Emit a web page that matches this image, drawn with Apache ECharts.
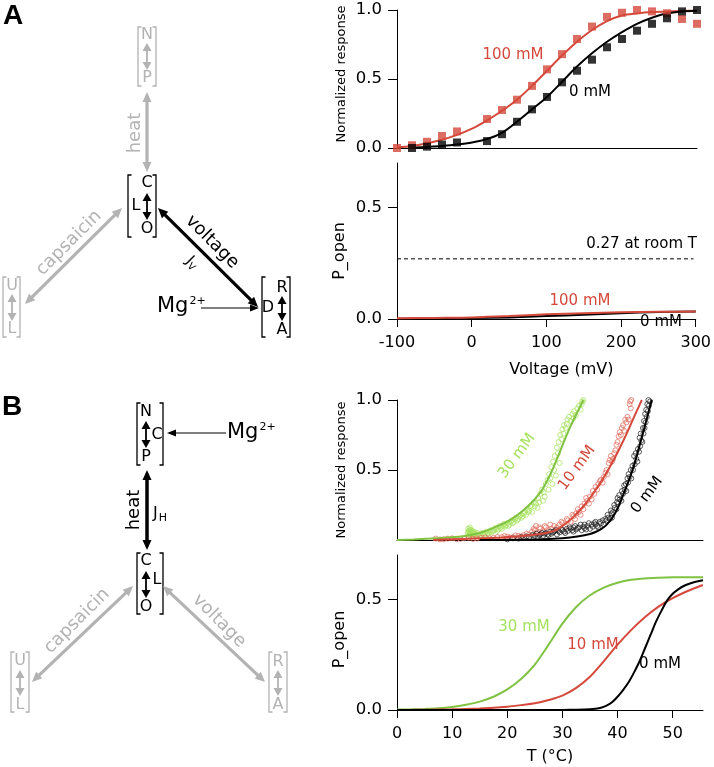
<!DOCTYPE html>
<html><head><meta charset="utf-8">
<script src="https://cdn.jsdelivr.net/npm/echarts@6/dist/echarts.min.js"></script>
<style>html,body{margin:0;padding:0;background:#fff}#c{width:714px;height:767px}</style>
</head><body><div id="c"></div><script>
// ---------- DATA ----------
// Panel A top: normalized response vs voltage
const voltX100 = [-100,-80,-60,-40,-20,20,40,60,80,100,120,140,160,180,200,220,240,260,280,300];
const resp100 = [0.0,0.02,0.045,0.087,0.12,0.21,0.275,0.35,0.45,0.57,0.68,0.79,0.88,0.95,0.98,1.0,0.99,0.976,0.935,0.9];
const voltX0 = [-80,-60,-40,-20,20,40,60,80,100,120,140,160,180,200,220,240,260,280,300];
const resp0 = [0.0,0.01,0.025,0.04,0.05,0.10,0.19,0.28,0.37,0.476,0.56,0.64,0.73,0.79,0.85,0.9,0.94,0.99,1.0];
const fitV = [-100,-80,-60,-40,-20,0,20,40,60,80,100,120,140,160,180,200,220,240,260,280,300];
const fit100 = [0.005,0.015,0.035,0.06,0.095,0.14,0.2,0.27,0.35,0.45,0.56,0.67,0.77,0.855,0.92,0.96,0.975,0.985,0.99,0.993,0.995];
const fitV0 = [-80,-60,-40,-20,0,20,40,60,80,100,120,140,160,180,200,220,240,260,280,300];
const fit0 = [0.002,0.008,0.015,0.025,0.04,0.065,0.11,0.19,0.28,0.37,0.48,0.59,0.686,0.77,0.84,0.9,0.944,0.976,0.99,0.995];
// Panel A bottom: P_open vs voltage
const pOpenV = [-100,-50,0,50,100,150,200,250,300];
const pOpenA100 = [0.003,0.005,0.007,0.013,0.021,0.026,0.03,0.032,0.034];
const pOpenA0 = [0.001,0.002,0.004,0.007,0.013,0.019,0.026,0.031,0.034];
const roomT = 0.27;
const voltTicks = [-100,0,100,200,300];
// Panel B top: normalized response vs temperature (points)
const ptsGreen = [[12.8,0.05],[12.9,0.08],[13.0,0.03],[13.0,0.065],[13.1,0.06],[13.1,0.045],[13.2,0.09],[13.2,0.035],[13.3,0.04],[13.3,0.075],[13.4,0.07],[13.4,0.055],[13.5,0.05],[13.6,0.03],[13.6,0.065],[13.7,0.06],[13.8,0.045],[13.9,0.04],[14.0,0.06],[14.1,0.05],[14.3,0.035],[14.4,0.03],[14.6,0.05],[14.8,0.04],[15.0,0.03],[15.2,0.035],[15.4,0.05],[15.6,0.045],[15.8,0.035],[16.0,0.04],[16.2,0.06],[16.4,0.05],[16.6,0.045],[16.8,0.06],[17.0,0.07],[17.2,0.055],[17.4,0.065],[17.6,0.07],[17.8,0.085],[18.0,0.08],[18.2,0.065],[18.4,0.075],[18.6,0.1],[18.8,0.09],[19.0,0.08],[19.2,0.1],[19.4,0.115],[19.6,0.095],[19.8,0.105],[20.0,0.12],[20.2,0.1],[20.4,0.11],[20.6,0.13],[20.8,0.14],[21.0,0.12],[21.2,0.13],[21.4,0.15],[21.6,0.16],[21.8,0.14],[22.0,0.15],[22.2,0.17],[22.4,0.18],[22.6,0.16],[22.8,0.17],[23.0,0.19],[23.2,0.2],[23.4,0.18],[23.6,0.22],[23.8,0.2],[24.0,0.21],[24.2,0.24],[24.4,0.25],[24.5,0.2],[24.8,0.27],[25.0,0.24],[25.2,0.26],[25.5,0.23],[25.6,0.3],[25.8,0.27],[26.0,0.33],[26.3,0.36],[26.5,0.28],[26.6,0.34],[26.8,0.31],[27.0,0.4],[27.3,0.43],[27.5,0.36],[27.6,0.47],[27.8,0.44],[28.0,0.52],[28.2,0.4],[28.3,0.56],[28.5,0.5],[28.6,0.6],[28.8,0.46],[29.0,0.66],[29.2,0.62],[29.3,0.7],[29.5,0.55],[29.6,0.75],[29.8,0.72],[30.0,0.79],[30.2,0.76],[30.3,0.82],[30.6,0.8],[30.8,0.83],[30.9,0.86],[31.2,0.88],[31.5,0.85],[31.8,0.9],[32.0,0.87],[32.1,0.92],[32.4,0.89],[32.7,0.94],[33.0,0.96],[33.3,0.93],[33.5,0.97],[33.6,0.99],[33.8,1.0]];
const ptsRed = [[7,0.01],[7.8,0.004],[8.5,0.005],[9.2,0.01],[10,0.012],[10.8,0.006],[11.5,0.008],[12.2,0.013],[13,0.015],[13.8,0.008],[14.5,0.01],[15.2,0.016],[16,0.018],[16.8,0.012],[17.5,0.015],[18.2,0.022],[19,0.02],[19.5,0.028],[20,0.025],[20.5,0.018],[21,0.02],[21.5,0.032],[22,0.03],[22.5,0.025],[23,0.035],[23.5,0.045],[24,0.04],[24.5,0.06],[24.8,0.08],[25,0.07],[25.2,0.1],[25.5,0.05],[25.8,0.09],[26,0.08],[26.5,0.06],[26.8,0.1],[27,0.09],[27.5,0.07],[27.8,0.11],[28,0.08],[28.5,0.1],[28.8,0.075],[29,0.09],[29.5,0.11],[29.8,0.13],[30,0.12],[30.5,0.1],[30.8,0.15],[31,0.14],[31.5,0.13],[31.8,0.18],[32,0.17],[32.3,0.15],[32.5,0.19],[32.8,0.22],[33,0.2],[33.3,0.18],[33.5,0.24],[33.8,0.22],[34,0.26],[34.3,0.3],[34.5,0.28],[34.8,0.26],[35,0.31],[35.3,0.29],[35.5,0.35],[35.8,0.33],[36,0.38],[36.3,0.36],[36.5,0.4],[36.8,0.42],[37,0.43],[37.3,0.41],[37.5,0.45],[37.8,0.48],[38,0.5],[38.2,0.47],[38.4,0.55],[38.6,0.57],[38.8,0.6],[39.0,0.56],[39.2,0.58],[39.4,0.62],[39.6,0.64],[39.8,0.68],[40,0.7],[40.2,0.74],[40.4,0.77],[40.6,0.75],[40.8,0.8],[41.0,0.82],[41.2,0.78],[41.4,0.86],[41.6,0.84],[41.8,0.88],[42,0.86],[42.2,0.97],[42.3,0.99],[42.4,0.94],[42.5,1.0]];
const ptsBlack = [[20,0.005],[21,0.012],[22,0.01],[22.5,0.02],[23,0.015],[23.5,0.025],[24,0.02],[24.5,0.035],[25,0.03],[25.3,0.045],[25.5,0.02],[25.8,0.035],[26,0.04],[26.3,0.05],[26.5,0.03],[26.8,0.045],[27,0.05],[27.3,0.04],[27.5,0.035],[27.8,0.06],[28,0.045],[28.3,0.055],[28.5,0.06],[28.8,0.07],[29,0.04],[29.3,0.065],[29.5,0.055],[29.8,0.075],[30,0.07],[30.3,0.06],[30.5,0.05],[30.8,0.08],[31,0.065],[31.3,0.09],[31.5,0.08],[31.8,0.07],[32,0.06],[32,0.09],[32.3,0.1],[32.5,0.075],[32.8,0.085],[33,0.09],[33.3,0.11],[33.5,0.07],[33.8,0.095],[34,0.085],[34,0.11],[34.3,0.075],[34.5,0.1],[34.8,0.12],[35,0.08],[35.3,0.11],[35.5,0.095],[35.8,0.12],[36,0.11],[36,0.13],[36.3,0.1],[36.5,0.09],[36.8,0.13],[37,0.12],[37.3,0.14],[37.5,0.11],[37.8,0.15],[38,0.14],[38.2,0.18],[38.3,0.16],[38.6,0.15],[38.8,0.21],[38.9,0.19],[39,0.16],[39.2,0.2],[39.4,0.25],[39.5,0.23],[39.8,0.22],[39.9,0.27],[40.0,0.3],[40.1,0.26],[40.3,0.32],[40.4,0.29],[40.7,0.28],[40.8,0.35],[41.0,0.33],[41.2,0.39],[41.3,0.36],[41.5,0.4],[41.6,0.35],[41.8,0.44],[41.9,0.41],[42.0,0.47],[42.2,0.45],[42.4,0.5],[42.5,0.44],[42.7,0.53],[42.8,0.5],[43.0,0.6],[43.1,0.54],[43.3,0.62],[43.4,0.58],[43.6,0.56],[43.7,0.65],[43.9,0.63],[44.0,0.73],[44.1,0.67],[44.2,0.76],[44.3,0.71],[44.5,0.7],[44.6,0.8],[44.7,0.76],[44.8,0.85],[44.9,0.8],[45.0,0.9],[45.1,0.84],[45.2,0.93],[45.3,0.88],[45.4,0.97],[45.5,0.92],[45.6,1.0],[45.7,0.96],[45.9,0.99]];
const fitGreenT = [0,3,6,9,12,15,18,21,24,26,27,28.5,30,31.5,33,33.8];
const fitGreenY = [0,0.004,0.01,0.017,0.026,0.05,0.095,0.155,0.25,0.34,0.405,0.53,0.675,0.815,0.935,1.0];
const fitRedT = [6.6,12,18,21,24,25,26,27,28,29,30,31,32,33,34,35,36,37,38,39,40,41,42,43,44,44.4];
const fitRedY = [0,0.008,0.016,0.024,0.034,0.038,0.043,0.05,0.06,0.075,0.1,0.13,0.165,0.205,0.25,0.3,0.355,0.415,0.48,0.55,0.625,0.705,0.79,0.88,0.965,1.0];
const fitBlackT = [15,25,30,33,35,36,37,38,39,40,41,42,43,44,45,46,46.2];
const fitBlackY = [0,0.004,0.013,0.027,0.043,0.057,0.078,0.108,0.155,0.225,0.32,0.42,0.535,0.675,0.82,0.97,1.0];
// Panel B bottom: P_open vs temperature
const pT = [0,2.5,5,7.5,10,12.5,15,17.5,20,22.5,25,27.5,30,32.5,35,37.5,40,42.5,45,47.5,50,52.5,55,55.5];
const pGreen = [0.002,0.003,0.005,0.008,0.014,0.024,0.038,0.06,0.093,0.14,0.205,0.295,0.39,0.465,0.518,0.553,0.575,0.588,0.594,0.597,0.599,0.6,0.6,0.6];
const pRed = [0,0.0005,0.001,0.002,0.003,0.005,0.007,0.01,0.015,0.022,0.03,0.045,0.065,0.1,0.15,0.22,0.295,0.362,0.42,0.468,0.505,0.535,0.56,0.563];
const pBlackT = [0,20,30,32,34,36,37,38,39,40,41,42,43,44,45,46,47,48,49,50,51,52,53,54,55.5];
const pBlack = [0,0,0,0.001,0.002,0.006,0.01,0.02,0.035,0.06,0.09,0.125,0.17,0.22,0.28,0.34,0.4,0.45,0.495,0.525,0.545,0.56,0.57,0.578,0.586];
const tempTicks = [0,10,20,30,40,50];

// ---------- STYLE ----------
const FONT = 'DejaVu Sans';
const RED = '#d4493b', BLACK = '#000', GREEN = '#80c242', GREEN_PT = '#a6e25e', RED_PT = '#e06a5a', GREY = '#b3b3b3';
const zip = (a, b) => a.map((v, i) => [v, b[i]]);
const fmt = v => v.toFixed(1);

function yAx(gi, max, labels, name, namePad) {
  return {
    gridIndex: gi, type: 'value', min: 0, max: max,
    axisLine: { show: true, onZero: false, lineStyle: { color: '#000', width: 1 } },
    axisTick: { show: true, length: 9, customValues: labels, lineStyle: { color: '#000' } },
    axisLabel: { customValues: labels, formatter: fmt, fontFamily: FONT, fontSize: 16.5, color: '#000', margin: 15 },
    splitLine: { show: false },
    name: name, nameLocation: 'middle', nameRotate: 90, nameGap: 49,
    nameTextStyle: { fontFamily: FONT, fontSize: name === 'P_open' ? 16 : 13, color: '#000', padding: namePad }
  };
}
function xAx(gi, min, max, ticks, name, gap, namePad) {
  const show = !!ticks;
  return {
    gridIndex: gi, type: 'value', min: min, max: max,
    axisLine: { show: true, onZero: false, lineStyle: { color: '#000', width: 1 } },
    axisTick: { show: show, length: 8, customValues: ticks || [], lineStyle: { color: '#000' } },
    axisLabel: { show: show, customValues: ticks || [], fontFamily: FONT, fontSize: 16, color: '#000', margin: 16 },
    splitLine: { show: false },
    name: name || '', nameLocation: 'middle', nameGap: gap || 0,
    nameTextStyle: { fontFamily: FONT, fontSize: 16, color: '#000', padding: namePad || 0 }
  };
}
const sq = (xi, data, color) => ({ type: 'scatter', xAxisIndex: xi, yAxisIndex: xi, data, symbol: 'rect', symbolSize: 8, itemStyle: { color }, z: 5, clip: false, silent: true });
const circ = (xi, data, color) => ({ type: 'scatter', xAxisIndex: xi, yAxisIndex: xi, data, symbol: 'circle', symbolSize: 5, itemStyle: { color: 'rgba(0,0,0,0)', borderColor: color, borderWidth: 0.9 }, z: 2, clip: false, silent: true });
const ln = (xi, data, color, w, extra) => Object.assign({ type: 'line', xAxisIndex: xi, yAxisIndex: xi, data, showSymbol: false, symbol: 'none', smooth: 0.3, lineStyle: { color, width: w || 2 }, z: 4, clip: false, silent: true }, extra || {});

// ---------- DIAGRAM GRAPHICS ----------
const G = [];
function txt(x, y, s, o) {
  o = o || {};
  G.push({ type: 'text', x, y, rotation: o.rot || 0, silent: true, z: 10,
    style: { text: s, fill: o.color || '#000', font: (o.weight || 'normal') + ' ' + (o.size || 16) + 'px "' + (o.family || FONT) + '"',
      align: o.align || 'center', verticalAlign: 'middle', textAlign: o.align || 'center', textVerticalAlign: 'middle', rich: o.rich } });
}
function arrow(x1, y1, x2, y2, c, w, hl, hw, both) {
  const dx = x2 - x1, dy = y2 - y1, L = Math.hypot(dx, dy), ux = dx / L, uy = dy / L, nx = -uy, ny = ux;
  const sx = both ? x1 + ux * hl * 0.7 : x1, sy = both ? y1 + uy * hl * 0.7 : y1;
  G.push({ type: 'line', silent: true, z: 10, shape: { x1: sx, y1: sy, x2: x2 - ux * hl * 0.7, y2: y2 - uy * hl * 0.7 }, style: { stroke: c, lineWidth: w } });
  const head = (tx, ty, vx, vy) => G.push({ type: 'polygon', silent: true, z: 10, shape: { points: [[tx, ty], [tx - vx * hl + nx * hw / 2, ty - vy * hl + ny * hw / 2], [tx - vx * hl - nx * hw / 2, ty - vy * hl - ny * hw / 2]] }, style: { fill: c } });
  head(x2, y2, ux, uy);
  if (both) head(x1, y1, -ux, -uy);
}
function bracket(xl, xr, yt, yb, c) {
  const a = 3.5;
  G.push({ type: 'polyline', silent: true, z: 10, shape: { points: [[xl + a, yt], [xl, yt], [xl, yb], [xl + a, yb]] }, style: { stroke: c, lineWidth: 1.3, fill: null } });
  G.push({ type: 'polyline', silent: true, z: 10, shape: { points: [[xr - a, yt], [xr, yt], [xr, yb], [xr - a, yb]] }, style: { stroke: c, lineWidth: 1.3, fill: null } });
}
const smallArrow = (x, y1, y2, c) => arrow(x, y1, x, y2, c, 1.8, 8, 9, true);
const mgRich = { a: { fontSize: 21, fontFamily: FONT, fill: '#000' }, b: { fontSize: 11, fontFamily: FONT, fill: '#000', padding: [0, 0, 11, 1] } };
const R45 = Math.PI / 4;

// Panel A diagram
txt(13, 16, 'A', { size: 28, weight: 'bold', family: 'Liberation Sans' });
bracket(138, 156, 27, 86, GREY); txt(147, 35, 'N', { color: GREY }); txt(147, 78, 'P', { color: GREY }); smallArrow(147, 43, 70, GREY);
arrow(147, 92, 147, 172, GREY, 3.2, 10, 9, true); txt(135, 133, 'heat', { color: GREY, size: 18, rot: Math.PI / 2 });
bracket(128, 156, 175, 237, BLACK); txt(147, 183, 'C'); txt(147, 229, 'O'); txt(136, 206, 'L'); smallArrow(147, 193, 220, BLACK);
arrow(158, 208, 258, 307, BLACK, 3.2, 10, 9, true); txt(212, 242, 'voltage', { size: 18, rot: -R45 });
txt(192, 263, '{a|J}{b|V}', { rot: -R45, rich: { a: { fontSize: 15, fontFamily: FONT, fill: '#000' }, b: { fontSize: 10, fontFamily: FONT, fill: '#000', padding: [7, 0, 0, 0] } } });
arrow(122, 208, 25, 304, GREY, 3.2, 10, 9, true); txt(69, 243, 'capsaicin', { color: GREY, size: 18, rot: R45 });
bracket(3, 20, 277, 337, GREY); txt(12, 286, 'U', { color: GREY }); txt(12, 329, 'L', { color: GREY }); smallArrow(12, 294, 321, GREY);
bracket(262, 290, 277, 337, BLACK); txt(282, 288, 'R'); txt(282, 330, 'A'); txt(268, 308, 'D'); smallArrow(282, 296, 321, BLACK);
txt(157, 307, '{a|Mg}{b|2+}', { align: 'left', rich: mgRich });
arrow(201, 308, 259, 308, BLACK, 1.2, 9, 7, false);

// Panel B diagram
txt(12, 407, 'B', { size: 28, weight: 'bold', family: 'Liberation Sans' });
bracket(137, 163, 403, 465, BLACK); txt(146, 412, 'N'); txt(146, 457, 'P'); txt(157, 435, 'C'); smallArrow(146, 421, 448, BLACK);
arrow(226, 433, 167, 433, BLACK, 1.2, 9, 7, false); txt(227, 433, '{a|Mg}{b|2+}', { align: 'left', rich: mgRich });
arrow(147, 470, 147, 550, BLACK, 3.5, 10, 9, true); txt(134, 510, 'heat', { size: 18, rot: Math.PI / 2 });
txt(153, 514, '{a|J}{b|H}', { align: 'left', rich: { a: { fontSize: 16, fontFamily: FONT, fill: '#000' }, b: { fontSize: 11, fontFamily: FONT, fill: '#000', padding: [8, 0, 0, 1] } } });
bracket(137, 163, 553, 614, BLACK); txt(146, 561, 'C'); txt(146, 607, 'O'); txt(157, 580, 'L'); smallArrow(146, 571, 598, BLACK);
arrow(133, 586, 32, 682, GREY, 3.2, 10, 9, true); txt(77, 621, 'capsaicin', { color: GREY, size: 18, rot: R45 });
arrow(163, 586, 265, 682, GREY, 3.2, 10, 9, true); txt(219, 621, 'voltage', { color: GREY, size: 18, rot: -R45 });
bracket(11, 29, 652, 712, GREY); txt(20, 661, 'U', { color: GREY }); txt(20, 705, 'L', { color: GREY }); smallArrow(20, 670, 696, GREY);
bracket(269, 287, 652, 712, GREY); txt(278, 662, 'R', { color: GREY }); txt(278, 705, 'A', { color: GREY }); smallArrow(278, 670, 696, GREY);

// Chart annotations
txt(513, 55, '100 mM', { color: RED, size: 15 });
txt(590, 92, '0 mM', { size: 15 });
txt(697, 244, '0.27 at room T', { size: 15, align: 'right' });
txt(580, 301, '100 mM', { color: RED, size: 15 });
txt(661, 322, '0 mM', { size: 15 });
txt(517, 456, '30 mM', { color: GREEN_PT, size: 15, rot: 0.93 });
txt(577, 468, '10 mM', { color: RED, size: 15, rot: 0.93 });
txt(647, 495, '0 mM', { size: 15, rot: 0.93 });
txt(524, 627, '30 mM', { color: GREEN_PT, size: 15 });
txt(593, 645, '10 mM', { color: RED, size: 15 });
txt(660, 664, '0 mM', { size: 15 });

// ---------- CHART ----------
const chart = echarts.init(document.getElementById('c'), null, { renderer: 'canvas' });
chart.setOption({
  animation: false,
  backgroundColor: '#fff',
  grid: [
    { left: 397, top: 10, width: 300, height: 138 },
    { left: 397, top: 163, width: 300, height: 156 },
    { left: 397, top: 400, width: 306, height: 140 },
    { left: 397, top: 555, width: 306, height: 155 }
  ],
  xAxis: [
    xAx(0, -100, 300, null),
    xAx(1, -100, 300, voltTicks, 'Voltage (mV)', 43, [0, 0, 0, 30]),
    xAx(2, 0, 55.5, null),
    xAx(3, 0, 55.5, tempTicks, 'T (°C)', 39)
  ],
  yAxis: [
    yAx(0, 1, [0, 0.5, 1], 'Normalized response', [0, 0, 0, 10]),
    yAx(1, 0.7, [0, 0.5], 'P_open', [0, 20, 0, 0]),
    yAx(2, 1, [0.5, 1], 'Normalized response', 0),
    yAx(3, 0.7, [0, 0.5], 'P_open', [0, 14, 0, 0])
  ],
  series: [
    ln(0, zip(fitV, fit100), RED, 2),
    ln(0, zip(fitV0, fit0), BLACK, 2),
    sq(0, zip(voltX100, resp100), RED),
    sq(0, zip(voltX0, resp0), BLACK),
    ln(1, zip(pOpenV, pOpenA0), BLACK, 2),
    ln(1, zip(pOpenV, pOpenA100), RED, 2),
    ln(1, [[-100, roomT], [297, roomT]], BLACK, 1, { smooth: false, lineStyle: { color: BLACK, width: 1, type: [4, 3] } }),
    circ(2, ptsGreen, GREEN_PT),
    circ(2, ptsRed, RED_PT),
    circ(2, ptsBlack, '#222'),
    ln(2, zip(fitGreenT, fitGreenY), GREEN, 2),
    ln(2, zip(fitRedT, fitRedY), RED, 2),
    ln(2, zip(fitBlackT, fitBlackY), BLACK, 2),
    ln(3, zip(pT, pGreen), GREEN, 2),
    ln(3, zip(pT, pRed), RED, 2),
    ln(3, zip(pBlackT, pBlack), BLACK, 2)
  ],
  graphic: { elements: G }
});
</script></body></html>
